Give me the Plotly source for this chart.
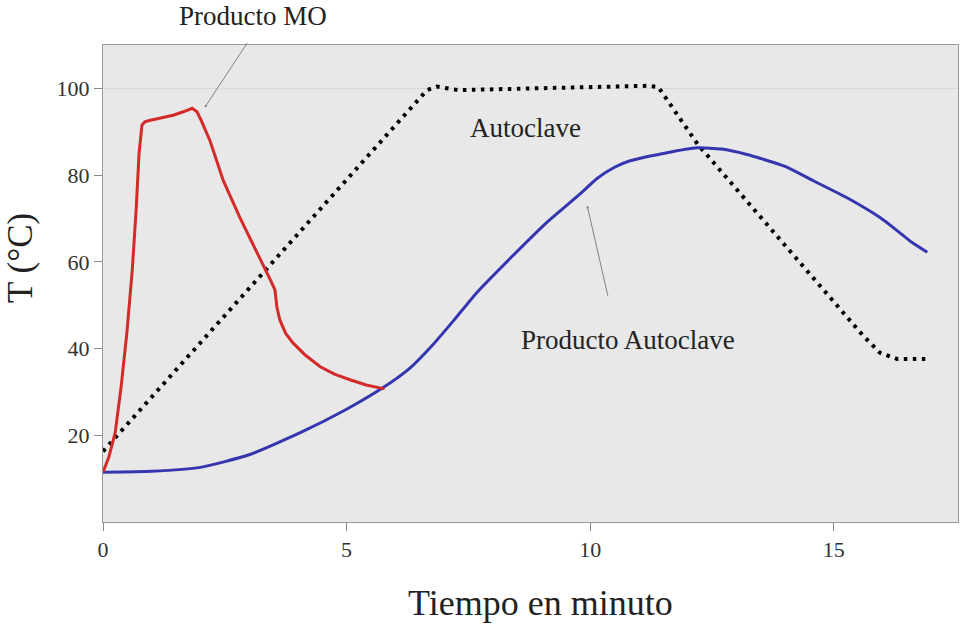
import plotly.graph_objects as go

# Producto MO (red)
mo_t = [0.0, 0.12, 0.25, 0.37, 0.49, 0.6, 0.68, 0.74, 0.8, 0.86, 0.95, 1.2, 1.44, 1.65, 1.83, 1.93, 2.02, 2.2, 2.47, 2.81, 3.22, 3.45, 3.53, 3.57, 3.63, 3.75, 3.9, 4.15, 4.46, 4.75, 5.07, 5.4, 5.78]
mo_T = [11.5, 15.0, 20.6, 31.0, 43.6, 58.0, 72.0, 85.0, 91.5, 92.3, 92.6, 93.2, 93.8, 94.6, 95.4, 94.6, 92.5, 87.8, 78.7, 70.2, 61.0, 55.5, 53.5, 49.5, 46.6, 43.5, 41.3, 38.5, 35.8, 34.1, 32.8, 31.6, 30.7]

# Producto Autoclave (blue)
pa_t = [0.0, 1.0, 2.0, 3.0, 4.05, 5.0, 5.75, 6.3, 6.78, 7.2, 7.68, 8.42, 9.1, 9.8, 10.14, 10.5, 10.82, 11.5, 12.2, 12.7, 13.2, 14.0, 14.58, 15.3, 15.95, 16.3, 16.6, 16.92]
pa_T = [11.5, 11.7, 12.6, 15.5, 20.6, 26.0, 31.0, 35.5, 41.0, 46.5, 53.0, 61.5, 69.0, 75.7, 79.2, 81.8, 83.3, 85.0, 86.3, 86.0, 84.8, 82.0, 78.7, 74.6, 70.2, 67.2, 64.5, 62.2]

# Autoclave (black dotted)
ac_t = [0.0, 6.65, 6.85, 7.3, 11.2, 11.4, 12.2, 15.0, 15.6, 15.95, 16.3, 16.92]
ac_T = [16.3, 99.6, 100.4, 99.6, 100.6, 100.3, 87.2, 51.0, 43.0, 39.0, 37.6, 37.6]

x_ticks = [0, 5, 10, 15]
y_ticks = [20, 40, 60, 80, 100]

x_title = "Tiempo en minuto"
y_title = "T (°C)"

serif = "Liberation Serif, Times New Roman, serif"

fig = go.Figure()
fig.add_trace(go.Scatter(x=ac_t, y=ac_T, mode="lines", name="Autoclave",
                         line=dict(color="black", width=4, dash="3.5px,5.5px")))
fig.add_trace(go.Scatter(x=pa_t, y=pa_T, mode="lines", name="Producto Autoclave",
                         line=dict(color="#3535b0", width=3, shape="spline", smoothing=0.5)))
fig.add_trace(go.Scatter(x=mo_t, y=mo_T, mode="lines", name="Producto MO",
                         line=dict(color="#d42a2a", width=3)))

# faint reference line at 100
fig.add_shape(type="line", xref="paper", x0=0, x1=1, yref="y", y0=100, y1=100,
              line=dict(color="#d6d6d6", width=1), layer="below")

fig.add_annotation(x=2.09, y=95.6, ax=2.98, ay=110.8, axref="x", ayref="y",
                   text="", showarrow=True, arrowhead=2, arrowsize=0.6, arrowwidth=0.8,
                   arrowcolor="#666666")
fig.add_annotation(x=9.94, y=72.9, ax=10.37, ay=51.8, axref="x", ayref="y",
                   text="", showarrow=True, arrowhead=2, arrowsize=0.6, arrowwidth=0.8,
                   arrowcolor="#666666")
fig.add_annotation(xref="paper", yref="paper", x=(253 - 103) / 855, y=(522 - 16) / 477,
                   xanchor="center", yanchor="middle",
                   text="Producto MO", showarrow=False,
                   font=dict(family=serif, size=27, color="#222"))
fig.add_annotation(x=8.67, y=90.8, text="Autoclave", showarrow=False,
                   font=dict(family=serif, size=27, color="#222"))
fig.add_annotation(x=10.78, y=42.0, text="Producto Autoclave", showarrow=False,
                   font=dict(family=serif, size=27, color="#222"))

# axis titles placed as text
fig.add_annotation(xref="paper", yref="paper", x=(540 - 103) / 855, y=(522 - 603) / 477,
                   xanchor="center", yanchor="middle", text=x_title, showarrow=False,
                   font=dict(family=serif, size=36, color="#222"))
fig.add_annotation(xref="paper", yref="paper", x=(20 - 103) / 855, y=(522 - 258) / 477,
                   xanchor="center", yanchor="middle", text=y_title, textangle=-90, showarrow=False,
                   font=dict(family=serif, size=35, color="#222"))

fig.update_layout(
    width=961, height=627,
    margin=dict(l=103, r=3, t=45, b=105),
    paper_bgcolor="white", plot_bgcolor="#e8e8e8",
    showlegend=False,
    font=dict(family=serif, color="#333"),
)
fig.update_xaxes(range=[0, 17.55], tickvals=x_ticks, ticks="outside", ticklen=8, tickcolor="#888",
                 showgrid=False, zeroline=False, showline=True, linecolor="#999", mirror=True,
                 automargin=False,
                 tickfont=dict(family=serif, size=22, color="#333"), ticklabelstandoff=0)
fig.update_yaxes(range=[0, 110], tickvals=y_ticks, ticks="outside", ticklen=8, tickcolor="#888",
                 showgrid=False, zeroline=False, showline=True, linecolor="#999", mirror=True,
                 automargin=False,
                 tickfont=dict(family=serif, size=22, color="#333"))

fig.write_html("out.html", config={"displayModeBar": False},
               post_script="document.body.style.margin='0';")
